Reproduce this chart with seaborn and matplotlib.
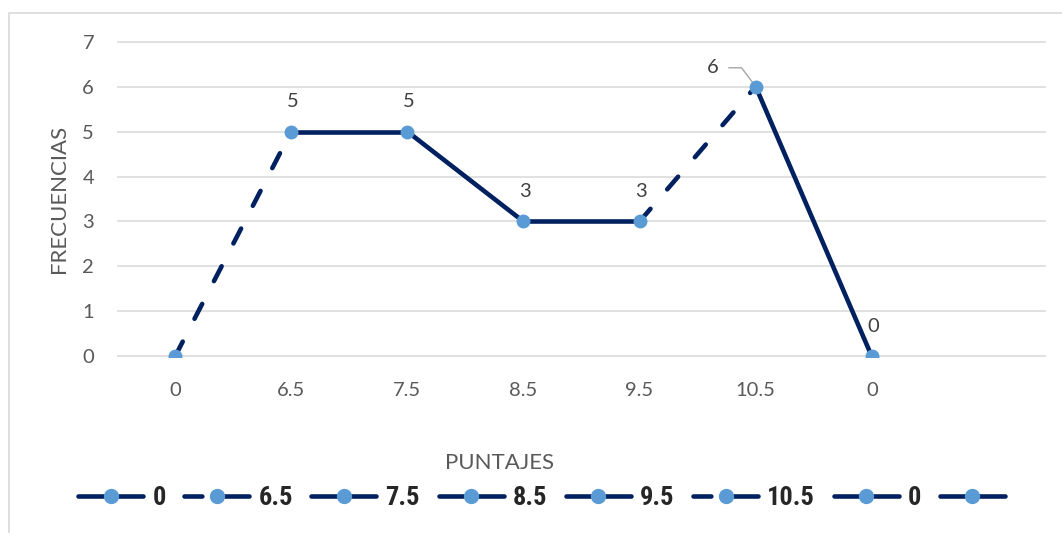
import matplotlib
matplotlib.use("Agg")
import matplotlib.pyplot as plt
from matplotlib import font_manager
from matplotlib.lines import Line2D
from matplotlib.patches import Rectangle
import numpy as np
import pandas as pd
import seaborn as sns

# Frequency polygon of scores
categorias = ["0", "6.5", "7.5", "8.5", "9.5", "10.5", "0", ""]
frecuencias = [0, 5, 5, 3, 3, 6, 0, None]
# line style of the segment that ends at each point
estilos = ["solid", "dashed", "solid", "solid", "solid", "dashed", "solid", "solid"]
# which points carry a value label
con_etiqueta = [False, True, True, True, True, True, True, False]
y_ticks = [0, 1, 2, 3, 4, 5, 6, 7]

NAVY = "#002060"
LIGHT = "#5B9BD5"
GRID = "#D9D9D9"
TICK_C = "#595959"
LABEL_C = "#404040"
LW = 3.3
DASH = (3.65, 5.6)
LEGEND_DASH = (3.9, 4.4, 8.0, 2.0)

sns.set_style("white")
plt.rcParams["font.family"] = ["Lato", "DejaVu Sans"]

# condensed bold face for the legend, if one is available
available = {f.name for f in font_manager.fontManager.ttflist}
legend_family, legend_size = "Roboto", 17.5
for name in ["Liberation Sans Narrow", "Arial Narrow", "Roboto Condensed",
             "DejaVu Sans Condensed", "Open Sans Condensed", "Noto Sans Condensed"]:
    if name in available:
        legend_family, legend_size = name, 19
        break

W, H = 1062, 533
fig = plt.figure(figsize=(W / 100, H / 100), dpi=100)
ax = fig.add_axes([117 / W, 1 - 357 / H, 929 / W, 316 / H])

# one row per segment end point, grouped by segment
rows = []
for i in range(1, len(frecuencias)):
    if frecuencias[i] is None or frecuencias[i - 1] is None:
        continue
    for j in (i - 1, i):
        rows.append({"seg": i, "x": j, "y": frecuencias[j], "kind": estilos[i]})
segs = pd.DataFrame(rows)

sns.lineplot(data=segs, x="x", y="y", units="seg", style="kind",
             dashes={"solid": "", "dashed": DASH}, estimator=None,
             color=NAVY, linewidth=LW, legend=False, ax=ax,
             solid_capstyle="round", dash_capstyle="round", zorder=3)

pts = pd.DataFrame({"x": np.arange(len(frecuencias)),
                    "y": [np.nan if v is None else v for v in frecuencias],
                    "lab": con_etiqueta}).dropna()
sns.scatterplot(data=pts, x="x", y="y", color=LIGHT, s=100, linewidth=0,
                ax=ax, zorder=4, legend=False)

# data labels
ymax = pts["y"].max()
for _, r in pts[pts["lab"]].iterrows():
    xi, yi = int(r["x"]), r["y"]
    if yi == ymax:
        ax.annotate(f"{yi:g}", xy=(xi, yi), xytext=(-31, 13.5),
                    textcoords="offset points", ha="center", va="center",
                    fontsize=14.5, color=LABEL_C, zorder=2,
                    arrowprops=dict(arrowstyle="-", color="#A6A6A6", lw=1.0,
                                    relpos=(1, 0.5), shrinkA=5, shrinkB=0,
                                    connectionstyle="angle,angleA=0,angleB=-53,rad=0"))
    else:
        ax.annotate(f"{yi:g}", xy=(xi, yi), xytext=(1, 21.5),
                    textcoords="offset points", ha="center", va="center",
                    fontsize=14.5, color=LABEL_C, zorder=5)

ax.set_xlim(-0.5, len(categorias) - 0.5)
ax.set_ylim(-0.012, 7.012)
ax.set_xticks(range(len(categorias)))
ax.set_xticklabels(categorias)
ax.set_yticks(y_ticks)
ax.tick_params(axis="x", length=0, pad=18, labelsize=14.5, labelcolor=TICK_C)
ax.tick_params(axis="y", length=0, pad=16.5, labelsize=14.5, labelcolor=TICK_C)
ax.set_xlabel("")
ax.set_ylabel("")
ax.yaxis.grid(True, color=GRID, linewidth=1.1)
ax.xaxis.grid(False)
ax.set_axisbelow(True)
for s in ax.spines.values():
    s.set_visible(False)

fig.text(59 / W, 1 - 199 / H, "FRECUENCIAS", rotation=90, ha="center",
         va="center", fontsize=16, color=TICK_C)
fig.text(500 / W, 1 - 463 / H, "PUNTAJES", ha="center", va="center",
         fontsize=16, color=TICK_C)

# legend: one entry per category with the style of its incoming segment
handles = []
for st in estilos:
    h = Line2D([], [], color=NAVY, linewidth=LW, marker="o", markersize=10,
               markerfacecolor=LIGHT, markeredgecolor=LIGHT,
               solid_capstyle="round", dash_capstyle="round")
    if st == "dashed":
        h.set_dashes(LEGEND_DASH)
    handles.append(h)
fig.legend(handles, categorias, loc="center", bbox_to_anchor=(546 / W, 1 - 498 / H),
           ncol=len(categorias), frameon=False, numpoints=1,
           handlelength=46.8 / legend_size, handletextpad=0.35, columnspacing=0.7,
           prop={"family": legend_family, "weight": "bold", "size": legend_size})

# chart-area border (top and left edges visible)
fig.add_artist(Rectangle((9 / W, -0.1), 1.2, 1.1 - 13 / H, transform=fig.transFigure,
                         fill=False, edgecolor=GRID, linewidth=1.2))

fig.savefig("out.png", dpi=100)
